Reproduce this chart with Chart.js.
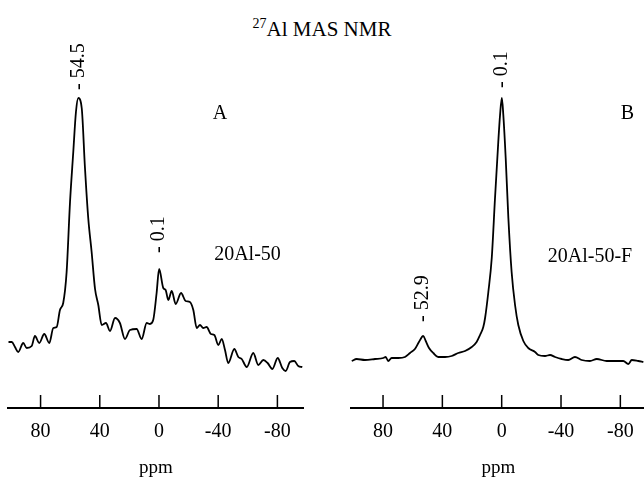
<!DOCTYPE html>
<html>
<head>
<meta charset="utf-8">
<script src="https://cdn.jsdelivr.net/npm/chart.js@4/dist/chart.umd.min.js"></script>
<style>
  html, body { margin: 0; padding: 0; background: #fff; }
  body { width: 644px; height: 482px; overflow: hidden; position: relative; }
  canvas { position: absolute; top: 0; }
  #chartA { left: 0; }
  #chartB { left: 340px; }
  #title {
    position: absolute; left: 0; top: 16px; width: 644px; text-align: center;
    font-family: "Liberation Serif", "Times New Roman", serif; font-size: 21px; color: #000;
  }
  #title sup { font-size: 14px; }
</style>
</head>
<body>
<div id="title"><sup>27</sup>Al MAS NMR</div>
<canvas id="chartA" width="320" height="482"></canvas>
<canvas id="chartB" width="320" height="482"></canvas>
<script>
// chemical shift axis (ppm) and tick labels
var ppmMin = -97.5;
var ppmMax = 101.8;
var tickValues = [80, 40, 0, -40, -80];

// spectrum A : 20Al-50
var ppmA = [101.8, 99.5, 97.3, 95.1, 91.7, 89.4, 86.0, 83.8, 80.9, 77.5, 74.1, 71.4, 69.1, 66.9, 64.7, 62.4,
  60.1, 57.9, 56.1, 54.5, 52.2, 50.0, 47.8, 45.5, 43.2, 41.0, 38.7, 35.8, 33.1, 29.7, 26.4, 23.0, 19.6, 15.1,
  11.7, 8.3, 6.1, 3.9, 1.6, -0.1, -2.9, -4.5, -6.3, -8.6, -11.3, -14.9, -18.0, -20.9, -23.2, -25.5, -27.7,
  -29.9, -32.2, -35.1, -37.4, -40.1, -42.4, -44.6, -46.8, -50.9, -53.6, -55.9, -59.3, -63.7, -67.1, -70.5,
  -73.4, -76.6, -80.2, -83.3, -85.6, -88.5, -91.4, -94.1, -96.8];
var intensityA = [66, 66, 61, 56, 65, 60, 62, 72, 65, 74, 65, 80, 81, 98, 105, 136,
  206, 256, 296, 310, 300, 240, 190, 156, 119, 103, 83, 85, 77, 90, 85, 69, 78, 79,
  69, 85, 84, 88, 115, 139, 120, 118, 108, 117, 104, 115, 107, 106, 98, 80, 83,
  80, 81, 74, 73, 63, 69, 58, 45, 59, 51, 49, 41, 55, 43, 48,
  45, 39, 50, 40, 37, 46, 47, 42, 41];

// spectrum B : 20Al-50-F
var ppmB = [101.1, 97.8, 92.2, 85.4, 79.8, 78.2, 76.5, 74.2, 69.7, 65.2, 61.8, 58.5, 55.8, 52.9, 51.2, 49.0,
  46.1, 42.8, 38.2, 33.7, 29.3, 24.7, 20.2, 16.9, 14.6, 12.4, 11.2, 9.0, 6.7, 4.5, 2.3, 1.1, -0.1, -1.1, -2.7,
  -4.5, -6.7, -9.0, -11.2, -14.6, -17.9, -22.5, -24.7, -29.2, -32.6, -36.0, -40.5, -44.9, -49.4, -53.9,
  -59.5, -64.1, -70.8, -77.5, -82.0, -85.4, -87.7, -92.1, -95.5];
var intensityB = [47, 49, 48, 49, 50, 51, 47, 50, 50, 51, 55, 59, 66, 72, 67, 60,
  55, 51, 51, 52, 55, 57, 61, 66, 73, 81, 90, 116, 150, 210, 266, 293, 310, 293, 250,
  190, 136, 103, 83, 67, 60, 56, 53, 52, 53, 51, 49, 48, 51, 48,
  47, 49, 47, 47, 47, 44, 48, 47, 46];

// peak annotations and panel labels
var peaksA = [54.5, -0.1];
var peakTextA = ['- 54.5', '- 0.1'];
var peakLevelA = [318, 155];
var peaksB = [52.9, -0.1];
var peakTextB = ['- 52.9', '- 0.1'];
var peakLevelB = [86, 320];

var serif = "'Liberation Serif', 'Times New Roman', serif";

function toPoints(xs, ys) {
  return xs.map(function (x, i) { return { x: x, y: ys[i] }; });
}

// tick marks pointing up into the plot, and the rotated peak labels
var spectrumDecor = {
  id: 'spectrumDecor',
  afterDraw: function (chart, args, opts) {
    var ctx = chart.ctx;
    var xs = chart.scales.x, ys = chart.scales.y;
    var bottom = chart.chartArea.bottom;
    ctx.save();
    ctx.strokeStyle = '#000';
    ctx.lineWidth = 1.5;
    xs.ticks.forEach(function (t) {
      var px = xs.getPixelForValue(t.value);
      ctx.beginPath();
      ctx.moveTo(px, bottom);
      ctx.lineTo(px, bottom - 13);
      ctx.stroke();
    });

    ctx.fillStyle = '#000';
    ctx.font = '20px ' + serif;
    ctx.textBaseline = 'middle';
    opts.peaks.forEach(function (p, i) {
      ctx.save();
      ctx.translate(xs.getPixelForValue(p), ys.getPixelForValue(opts.levels[i]));
      ctx.rotate(-Math.PI / 2);
      ctx.textAlign = 'left';
      ctx.fillText(opts.texts[i], 0, 0);
      ctx.restore();
    });

    ctx.textAlign = 'center';
    opts.labels.forEach(function (l) {
      ctx.fillText(l.text, xs.getPixelForValue(l.x), ys.getPixelForValue(l.y));
    });
    ctx.restore();
  }
};

function makeSpectrum(id, xs, ys, padLeft, padRight, decor) {
  return new Chart(document.getElementById(id).getContext('2d'), {
    type: 'line',
    data: {
      datasets: [{
        data: toPoints(xs, ys),
        borderColor: '#000',
        borderWidth: 1.8,
        pointRadius: 0,
        fill: false,
        cubicInterpolationMode: 'monotone'
      }]
    },
    options: {
      responsive: false,
      animation: false,
      layout: { padding: { left: padLeft, right: padRight, top: 90, bottom: 0 } },
      plugins: {
        legend: { display: false },
        tooltip: { enabled: false },
        spectrumDecor: decor
      },
      scales: {
        x: {
          type: 'linear',
          reverse: true,
          min: ppmMin,
          max: ppmMax,
          afterBuildTicks: function (scale) {
            scale.ticks = tickValues.map(function (v) { return { value: v }; });
          },
          afterFit: function (scale) { scale.height = 74; },
          grid: { display: false, drawTicks: false },
          border: { display: true, color: '#000', width: 2 },
          ticks: {
            color: '#000',
            padding: 12,
            font: { family: serif, size: 20 }
          },
          title: {
            display: true,
            text: 'ppm',
            color: '#000',
            font: { family: serif, size: 19 },
            padding: { top: 0, bottom: 3 }
          }
        },
        y: {
          display: false,
          min: 0,
          max: 318
        }
      }
    },
    plugins: [spectrumDecor]
  });
}

makeSpectrum('chartA', ppmA, intensityA, 8.3, 16.7, {
  peaks: peaksA, texts: peakTextA, levels: peakLevelA,
  labels: [{ text: 'A', x: -41.2, y: 294 }, { text: '20Al-50', x: -59.8, y: 153 }]
});

makeSpectrum('chartB', ppmB, intensityB, 10.7, 13.7, {
  peaks: peaksB, texts: peakTextB, levels: peakLevelB,
  labels: [{ text: 'B', x: -84.8, y: 294 }, { text: '20Al-50-F', x: -59.5, y: 151 }]
});
</script>
</body>
</html>
